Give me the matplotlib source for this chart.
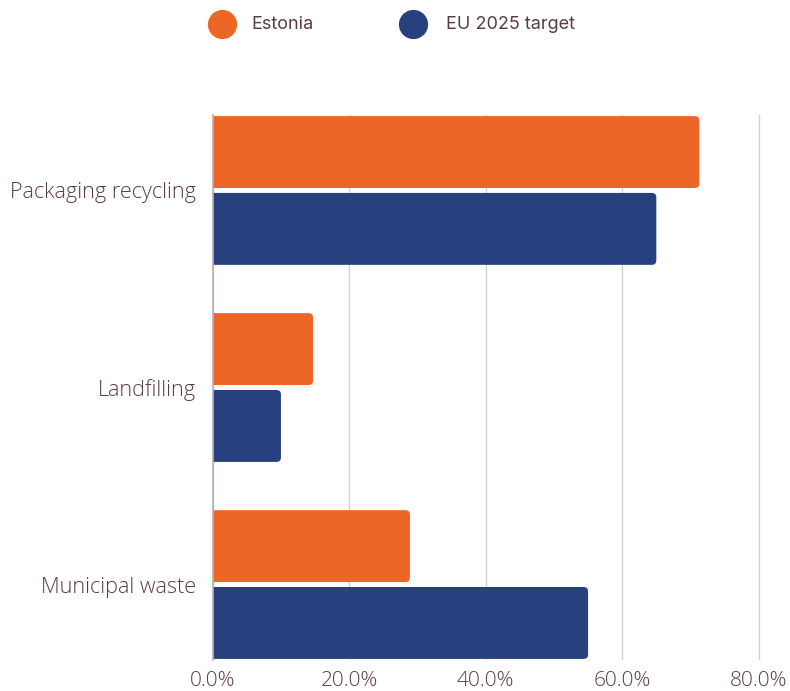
import matplotlib
matplotlib.use("Agg")
import matplotlib.pyplot as plt
from matplotlib.patches import FancyBboxPatch
from matplotlib.lines import Line2D
from matplotlib.ticker import FuncFormatter

categories = ["Packaging recycling", "Landfilling", "Municipal waste"]
estonia = [71.3, 14.7, 28.9]
eu_target = [65.0, 10.0, 55.0]
series_names = ["Estonia", "EU 2025 target"]
x_ticks = [0, 20, 40, 60, 80]

ORANGE = "#EC6726"
NAVY = "#27407E"
TEXT = "#5B3B42"
GRID = "#D6D0D2"

plt.rcParams["font.family"] = ["Open Sans", "DejaVu Sans"]

W, H = 790, 691
XMAX = 80.3
fig = plt.figure(figsize=(W / 100, H / 100), dpi=100)
px_per_unit = (758.7 - 212.7) / 80
ax = fig.add_axes([212.7 / W, 1 - 660 / H, XMAX * px_per_unit / W, (660 - 115) / H])

pos = list(range(len(categories)))
bar_h = 0.365
off = 0.195

bars_e = ax.barh([p - off for p in pos], estonia, height=bar_h, color=ORANGE)
bars_u = ax.barh([p + off for p in pos], eu_target, height=bar_h, color=NAVY)

ax.set_xlim(0, XMAX)
ax.set_ylim(2.383, -0.383)

# replace plain rectangles with slightly rounded boxes
fig.canvas.draw()
bbox = ax.get_window_extent()
x_per_px = XMAX / bbox.width
y_per_px = (2.383 + 0.383) / bbox.height
r_px = 4.5
for bars in (bars_e, bars_u):
    for rect in bars:
        x, y = rect.get_x(), rect.get_y()
        w, h = rect.get_width(), rect.get_height()
        fb = FancyBboxPatch((x - 3 * x_per_px, y), w + 3 * x_per_px, h,
                            boxstyle=f"round,pad=0,rounding_size={r_px * x_per_px}",
                            mutation_aspect=y_per_px / x_per_px,
                            facecolor=rect.get_facecolor(), edgecolor="none",
                            zorder=2, clip_on=True)
        ax.add_patch(fb)
        rect.set_visible(False)

ax.set_yticks(pos)
ax.set_yticklabels(categories)
ax.set_xticks(x_ticks)
ax.xaxis.set_major_formatter(FuncFormatter(lambda v, _: f"{v:.1f}%"))

ax.grid(axis="x", color=GRID, linewidth=1)
ax.set_axisbelow(True)
for s in ("top", "right", "bottom"):
    ax.spines[s].set_visible(False)
ax.spines["left"].set_color("#B8AEB1")
ax.spines["left"].set_linewidth(1.2)
ax.spines["left"].set_zorder(3)
ax.tick_params(axis="y", length=0, labelsize=15.6, labelcolor=TEXT, pad=12)
ax.tick_params(axis="x", length=0, labelsize=15, labelcolor=TEXT, pad=8)
fig.canvas.draw()
for lab in ax.get_yticklabels() + ax.get_xticklabels():
    lab.set_fontweight("light")

# legend drawn in figure coordinates
legend_items = [(222, 251, ORANGE, series_names[0]), (412.5, 446, NAVY, series_names[1])]
for cx, tx, col, name in legend_items:
    fig.add_artist(Line2D([cx / W], [1 - 24 / H], marker="o", markersize=20,
                          color=col, linestyle="none", transform=fig.transFigure))
    fig.text(tx / W, 1 - 24.5 / H, name, fontsize=13, color=TEXT,
             fontfamily=["Inter", "DejaVu Sans"], va="center", ha="left")

fig.savefig("out.png", dpi=100)
